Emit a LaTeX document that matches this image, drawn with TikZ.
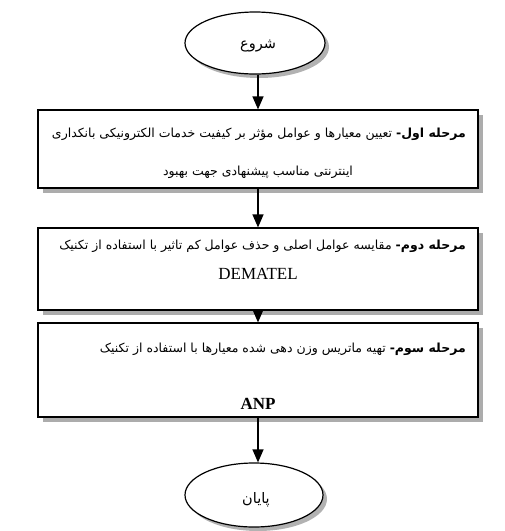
\documentclass[tikz,border=0pt]{standalone}
\usepackage{fontspec}
\setmainfont{Liberation Serif}
\newfontfamily\fa[Script=Arabic]{DejaVu Sans}
\TeXXeTstate=1
\usetikzlibrary{shapes.geometric,arrows.meta}
\tikzset{
  terminal/.style={ellipse,draw,line width=1.2pt,fill=white,minimum width=140pt,minimum height=62pt,inner sep=0pt},
  termshadow/.style={ellipse,fill=gray!60,minimum width=140pt,minimum height=62pt,inner sep=0pt},
  stagebox/.style={rectangle,draw,line width=1.2pt,fill=white,minimum width=440pt,inner sep=0pt},
  faText/.style={inner sep=0pt,font=\fa\fontsize{12.5}{14}\selectfont},
  termText/.style={inner sep=0pt,font=\fa\fontsize{14.5}{16}\selectfont},
  enText/.style={inner sep=0pt,font=\fontsize{17}{19}\selectfont},
  flow/.style={line width=1.2pt,-{Triangle[length=13pt,width=11pt]}},
  shade/.style={fill=gray!65}
}
\begin{document}
\begin{tikzpicture}[x=1pt,y=-1pt]
\useasboundingbox (0,0) rectangle (505,531);
% terminals
\node[termshadow] at (259,47) {};
\node[terminal] (start) at (255,43) {};
\node[termText] (starttext) at (258,46) {\beginR شروع\endR};
\node[termshadow,minimum width=138pt,minimum height=64pt] at (258,499) {};
\node[terminal,minimum width=138pt,minimum height=64pt] (finish) at (254,495) {};
\node[termText] (finishtext) at (256,500) {\beginR پایان\endR};
% box shadows
\fill[shade] (43,115) rectangle (483,193);
\fill[shade] (43,233) rectangle (483,315);
\fill[shade] (43,328) rectangle (483,422);
% boxes
\node[stagebox,minimum height=78pt] (b1) at (258,149) {};
\node[stagebox,minimum height=82pt] (b2) at (258,269) {};
\node[stagebox,minimum height=94pt] (b3) at (258,370) {};
% texts
\node[faText,anchor=east] (t1a) at (466,134) {\beginR{\bfseries مرحله اول-} تعیین معیارها و عوامل مؤثر بر کیفیت خدمات الکترونیکی بانکداری\endR};
\node[faText] (t1b) at (258,172) {\beginR اینترنتی مناسب پیشنهادی جهت بهبود\endR};
\node[faText,anchor=east] (t2a) at (466,246) {\beginR{\bfseries مرحله دوم-} مقایسه عوامل اصلی و حذف عوامل کم تاثیر با استفاده از تکنیک\endR};
\node[enText] (t2b) at (258,274) {DEMATEL};
\node[faText,anchor=east] (t3a) at (466,349) {\beginR{\bfseries مرحله سوم-} تهیه ماتریس وزن دهی شده معیارها با استفاده از تکنیک\endR};
\node[enText,font=\bfseries\fontsize{17}{19}\selectfont] (t3b) at (258,404) {ANP};
% connectors
\draw[flow] ([xshift=3pt]start.south) -- (b1.north);
\draw[flow] (b1.south) -- (b2.north);
\draw[flow] (b2.south) -- (b3.north);
\draw[flow] (b3.south) -- (b3.south |- finish.north);
\end{tikzpicture}
\end{document}
